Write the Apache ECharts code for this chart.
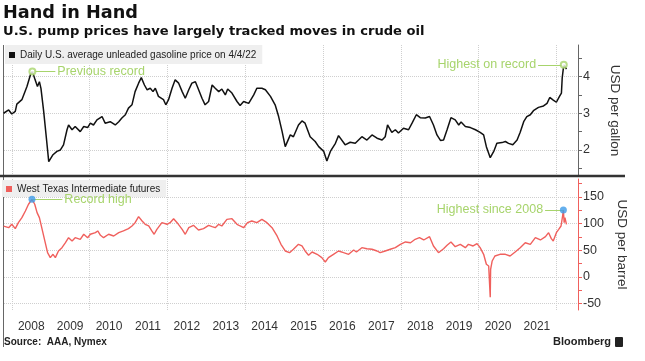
<!DOCTYPE html>
<html>
<head>
<meta charset="utf-8">
<script src="https://cdn.jsdelivr.net/npm/echarts@6/dist/echarts.min.js"></script>
<style>
html,body{margin:0;padding:0;background:#fff;}
#chart{width:645px;height:361px;}
</style>
</head>
<body>
<div id="chart"></div>
<script>
// ---- data (x = decimal year) ----
const gasX = [2007.79,2007.92,2008.00,2008.09,2008.13,2008.26,2008.39,2008.48,2008.53,2008.60,2008.66,2008.71,2008.75,2008.82,2008.89,2008.95,2008.99,
2009.06,2009.16,2009.25,2009.33,2009.42,2009.46,2009.55,2009.63,2009.76,2009.85,2009.95,
2010.02,2010.10,2010.19,2010.32,2010.40,2010.53,2010.66,2010.75,2010.83,2010.92,
2011.00,2011.09,2011.17,2011.26,2011.33,2011.41,2011.48,2011.56,2011.63,2011.69,2011.77,2011.90,2011.96,
2012.03,2012.12,2012.20,2012.29,2012.38,2012.46,2012.55,2012.63,2012.72,2012.77,2012.89,2012.97,
2013.06,2013.15,2013.23,2013.32,2013.40,2013.49,2013.55,2013.66,2013.79,2013.87,2013.96,
2014.09,2014.22,2014.30,2014.43,2014.52,2014.65,2014.77,2014.86,2014.95,
2015.03,2015.07,2015.16,2015.24,2015.37,2015.46,2015.54,2015.67,2015.80,2015.89,
2016.02,2016.10,2016.19,2016.32,2016.40,2016.57,2016.70,2016.83,
2017.00,2017.13,2017.26,2017.39,2017.52,2017.60,2017.66,2017.77,2017.86,2017.94,
2018.07,2018.20,2018.29,2018.40,2018.50,2018.63,2018.74,2018.84,2018.93,
2019.02,2019.10,2019.19,2019.29,2019.40,2019.49,2019.55,2019.66,2019.79,2019.92,
2020.04,2020.13,2020.20,2020.30,2020.39,2020.47,2020.60,2020.69,2020.77,2020.88,2020.99,
2021.07,2021.16,2021.24,2021.33,2021.41,2021.54,2021.67,2021.76,2021.83,2021.92,
2022.00,2022.08,2022.13,2022.15,2022.19,2022.26];
const gasY = [3.00,3.09,2.98,3.05,3.25,3.37,3.73,4.05,4.14,3.91,3.73,3.86,3.68,3.05,2.32,1.68,1.66,
1.87,1.96,2.00,2.14,2.55,2.68,2.55,2.64,2.50,2.64,2.61,
2.73,2.68,2.82,2.91,2.73,2.77,2.68,2.77,2.87,2.96,
3.14,3.23,3.59,3.82,3.97,3.77,3.64,3.68,3.59,3.68,3.46,3.37,3.23,
3.37,3.68,3.91,3.82,3.59,3.41,3.64,3.82,3.86,3.73,3.41,3.23,
3.32,3.77,3.68,3.59,3.66,3.50,3.66,3.55,3.32,3.21,3.32,
3.27,3.50,3.68,3.68,3.64,3.46,3.23,2.91,2.50,
2.09,2.05,2.41,2.36,2.68,2.79,2.73,2.36,2.23,2.09,
1.96,1.70,1.96,2.18,2.39,2.14,2.21,2.18,
2.36,2.27,2.41,2.32,2.27,2.36,2.68,2.48,2.55,2.46,
2.59,2.55,2.73,2.96,2.88,2.87,2.91,2.68,2.41,
2.26,2.27,2.55,2.88,2.82,2.68,2.76,2.64,2.61,2.55,
2.48,2.41,2.09,1.79,1.96,2.18,2.20,2.23,2.18,2.14,2.27,
2.48,2.77,2.91,2.96,3.07,3.16,3.20,3.27,3.43,3.36,
3.30,3.46,3.55,3.96,4.32,4.20];

const oilX = [2007.79,2007.92,2008.00,2008.09,2008.17,2008.26,2008.35,2008.43,2008.52,2008.59,2008.65,2008.71,2008.74,2008.80,2008.86,2008.92,2008.99,
2009.06,2009.12,2009.20,2009.29,2009.38,2009.46,2009.55,2009.63,2009.76,2009.85,2009.95,
2010.02,2010.15,2010.21,2010.28,2010.36,2010.49,2010.62,2010.75,2010.87,
2011.00,2011.09,2011.17,2011.26,2011.35,2011.43,2011.52,2011.60,2011.66,2011.73,2011.86,2011.99,
2012.07,2012.16,2012.25,2012.38,2012.46,2012.55,2012.67,2012.80,2012.93,
2013.06,2013.15,2013.23,2013.32,2013.40,2013.53,2013.66,2013.79,2013.87,2013.96,
2014.06,2014.17,2014.30,2014.43,2014.56,2014.69,2014.82,2014.92,
2015.03,2015.14,2015.24,2015.37,2015.46,2015.54,2015.63,2015.72,2015.85,2015.97,
2016.06,2016.14,2016.27,2016.40,2016.53,2016.66,2016.79,2016.86,
2017.00,2017.13,2017.26,2017.39,2017.47,2017.60,2017.73,2017.86,2017.99,
2018.12,2018.25,2018.37,2018.48,2018.59,2018.74,2018.84,2018.97,
2019.10,2019.19,2019.29,2019.40,2019.53,2019.66,2019.74,2019.86,2019.96,
2020.04,2020.13,2020.20,2020.26,2020.29,2020.30,2020.31,2020.35,2020.42,2020.55,2020.69,2020.81,2020.94,
2021.07,2021.20,2021.33,2021.46,2021.59,2021.72,2021.80,2021.87,2021.92,
2022.00,2022.06,2022.12,2022.16,2022.18,2022.20,2022.22,2022.26];
const oilY = [95,92.2,98.5,90.3,101.5,110.9,123.4,136,145.3,136,120.3,110.9,114,82.8,64,45.3,36,
42.3,36,48.5,54.7,64,73.4,67.2,73.4,70.4,79.8,73.4,
79.8,82.8,86,77.9,73.4,79.8,76.6,82.8,86,
90.3,95.3,101.5,112.8,104.7,98.5,95.3,86,79.8,89,101.5,98.5,
101.5,109,101.5,89,79.8,92.2,96.5,87.8,90.3,
96.6,94,92.1,98.5,95.3,107.8,109,98.5,95.3,92.1,
101.5,104.7,101.5,107.8,101.5,92.1,76.6,61,
48.5,45.3,51.7,61,57.9,48.5,40.5,46.6,42.3,36,
27.9,36,42.3,48.5,45.3,42.3,50.4,46.6,
54.7,52.8,51.7,48.5,45.3,48.5,51.7,54.7,61,
65.4,64,70.4,73.4,69.1,75.3,57.9,45.3,
52.8,59.2,65.4,56.6,61,54.7,61,57.9,62.3,
54.7,42.3,23.6,20.4,18,-38,14.2,29.8,39.1,42.3,42.3,39.1,46.6,
54.7,64,61,73.4,69.1,75.3,82.8,71.6,67.2,
82.8,89,95.3,114,125.3,101.5,110.9,98.5];

const yearLabels = [2008,2009,2010,2011,2012,2013,2014,2015,2016,2017,2018,2019,2020,2021];
const gridYears = [2008,2010,2012,2014,2016,2018,2020,2022];
const gasTicks = [1.5,2,2.5,3,3.5,4,4.5];
const gasLabels = [2,3,4];
const oilTicks = [-50,-25,0,25,50,75,100,125,150,175];
const oilLabels = [-50,0,50,100,150];

const gasName = 'Daily U.S. average unleaded gasoline price on 4/4/22';
const oilName = 'West Texas Intermediate futures';

// ---- helpers ----
const zip = (xs, ys) => xs.map((x, i) => [x, ys[i]]);
function maxIdx(xs, ys, from, to) {
  let best = -1;
  for (let i = 0; i < xs.length; i++) {
    if (xs[i] >= from && xs[i] <= to && (best < 0 || ys[i] > ys[best])) best = i;
  }
  return best;
}
const iGasPrev = maxIdx(gasX, gasY, 2007, 2009);
const iGasHigh = maxIdx(gasX, gasY, 2007, 2023);
const iOilHigh = maxIdx(oilX, oilY, 2007, 2023);
const iOilSince = maxIdx(oilX, oilY, 2009, 2023);

const GREEN = '#a7d46c';
const RED = '#f0605d';
const xMin = 2007.8, xMax = 2022.556;

function annot(x, y, dx, text) {
  return [{ name: text, coord: [x, y] }, { coord: [x + dx, y] }];
}
const annLabel = { show: true, position: 'end', formatter: '{b}', color: GREEN, fontSize: 12.5, distance: 2, fontFamily: 'Liberation Sans' };

const gridLineStyle = { type: 'dotted', color: '#cfcfcf', width: 1 };

const chart = echarts.init(document.getElementById('chart'), null, { renderer: 'canvas' });
chart.setOption({
  animation: false,
  backgroundColor: '#ffffff',
  textStyle: { fontFamily: 'Liberation Sans' },
  title: [
    { text: 'Hand in Hand', left: 3, top: 4, padding: 0,
      textStyle: { fontFamily: 'DejaVu Sans', fontWeight: 'bold', fontSize: 17.7, color: '#111' } },
    { text: 'U.S. pump prices have largely tracked moves in crude oil', left: 3, top: 25, padding: 0,
      textStyle: { fontFamily: 'DejaVu Sans', fontWeight: 'bold', fontSize: 13.1, color: '#111' } },
    { text: 'Source:  AAA, Nymex', left: 4, top: 337, padding: 0,
      textStyle: { fontFamily: 'Liberation Sans', fontWeight: 'bold', fontSize: 10, color: '#222' } },
    { text: 'Bloomberg', left: 553, top: 336, padding: 0,
      textStyle: { fontFamily: 'Liberation Sans', fontWeight: 'bold', fontSize: 11, color: '#222' } }
  ],
  graphic: [
    { type: 'rect', shape: { x: 0, y: 174.8, width: 625, height: 2.4 }, style: { fill: '#333' }, z: 10 },
    { type: 'line', shape: { x1: 3.5, y1: 45, x2: 3.5, y2: 347 }, style: { stroke: '#666', lineWidth: 1 } },
    { type: 'rect', shape: { x: 615, y: 337, width: 8, height: 10, r: 1 }, style: { fill: '#222' } }
  ],
  legend: [
    { data: [gasName], left: 5, top: 45, backgroundColor: '#efefef', padding: [5, 6, 4, 4],
      icon: 'rect', itemWidth: 6, itemHeight: 6, selectedMode: false,
      textStyle: { fontSize: 10, color: '#222', fontFamily: 'Liberation Sans' } },
    { data: [oilName], left: 2, top: 180, backgroundColor: '#efefef', padding: [4, 6, 3, 4],
      icon: 'rect', itemWidth: 6, itemHeight: 6, selectedMode: false,
      textStyle: { fontSize: 10, color: '#222', fontFamily: 'Liberation Sans' } }
  ],
  grid: [
    { left: 4, right: 67, top: 45, height: 131 },
    { left: 4, right: 67, top: 179, height: 131 }
  ],
  xAxis: [
    { gridIndex: 0, type: 'value', min: xMin, max: xMax, show: false },
    { gridIndex: 1, type: 'value', min: xMin, max: xMax,
      axisLine: { show: false }, axisTick: { show: false }, splitLine: { show: false },
      axisLabel: { customValues: yearLabels.map(y => y + 0.5), formatter: v => String(Math.floor(v)),
        color: '#333', fontSize: 12, margin: 11 } }
  ],
  yAxis: [
    { gridIndex: 0, type: 'value', position: 'right', min: 1.29, max: 4.86,
      axisLine: { show: true, lineStyle: { color: '#666' } },
      axisTick: { show: true, customValues: gasTicks, length: 4, lineStyle: { color: '#666' } },
      axisLabel: { customValues: gasLabels, color: '#333', fontSize: 12.5, margin: 5 },
      splitLine: { show: false },
      name: 'USD per gallon', nameLocation: 'middle', nameRotate: -90, nameGap: 30,
      nameTextStyle: { fontSize: 13.5, color: '#333' } },
    { gridIndex: 1, type: 'value', position: 'right', min: -62, max: 183.3,
      axisLine: { show: true, lineStyle: { color: RED } },
      axisTick: { show: true, customValues: oilTicks, length: 4, lineStyle: { color: RED } },
      axisLabel: { customValues: oilLabels, color: '#333', fontSize: 12.5, margin: 5 },
      splitLine: { show: false },
      name: 'USD per barrel', nameLocation: 'middle', nameRotate: -90, nameGap: 30,
      nameTextStyle: { fontSize: 13.5, color: '#333' } }
  ],
  series: [
    { type: 'line', xAxisIndex: 0, yAxisIndex: 0, data: [], silent: true, z: 1,
      markLine: { silent: true, symbol: 'none', z: 1, label: { show: false }, lineStyle: gridLineStyle,
        data: gridYears.map(y => ({ xAxis: y })).concat(gasLabels.map(v => ({ yAxis: v }))) } },
    { type: 'line', xAxisIndex: 1, yAxisIndex: 1, data: [], silent: true, z: 1,
      markLine: { silent: true, symbol: 'none', z: 1, label: { show: false }, lineStyle: gridLineStyle,
        data: gridYears.map(y => ({ xAxis: y })).concat(oilLabels.map(v => ({ yAxis: v }))) } },
    { name: gasName, type: 'line', xAxisIndex: 0, yAxisIndex: 0, data: zip(gasX, gasY),
      showSymbol: false, smooth: false, z: 3,
      lineStyle: { color: '#111', width: 1.5 }, itemStyle: { color: '#111' },
      markLine: { silent: true, symbol: 'none', z: 6, label: annLabel,
        lineStyle: { color: GREEN, width: 1, type: 'solid' },
        data: [ annot(gasX[iGasPrev], gasY[iGasPrev], 0.59, 'Previous record'),
                annot(gasX[iGasHigh], gasY[iGasHigh], -0.66, 'Highest on record') ] } },
    { name: oilName, type: 'line', xAxisIndex: 1, yAxisIndex: 1, data: zip(oilX, oilY),
      showSymbol: false, z: 3,
      lineStyle: { color: RED, width: 1.4 }, itemStyle: { color: RED },
      markLine: { silent: true, symbol: 'none', z: 6, label: annLabel,
        lineStyle: { color: GREEN, width: 1, type: 'solid' },
        data: [ annot(oilX[iOilHigh], oilY[iOilHigh], 0.78, 'Record high'),
                annot(oilX[iOilSince], oilY[iOilSince], -0.47, 'Highest since 2008') ] } },
    { type: 'scatter', xAxisIndex: 0, yAxisIndex: 0, z: 7, silent: true,
      symbol: 'emptyCircle', symbolSize: 6,
      itemStyle: { color: GREEN, borderColor: GREEN, borderWidth: 1 },
      data: [[gasX[iGasPrev], gasY[iGasPrev]], [gasX[iGasHigh], gasY[iGasHigh]]] },
    { type: 'scatter', xAxisIndex: 1, yAxisIndex: 1, z: 7, silent: true,
      symbol: 'circle', symbolSize: 7,
      itemStyle: { color: '#3d9be9' },
      data: [[oilX[iOilHigh], oilY[iOilHigh]], [oilX[iOilSince], oilY[iOilSince]]] }
  ]
});
</script>
</body>
</html>
